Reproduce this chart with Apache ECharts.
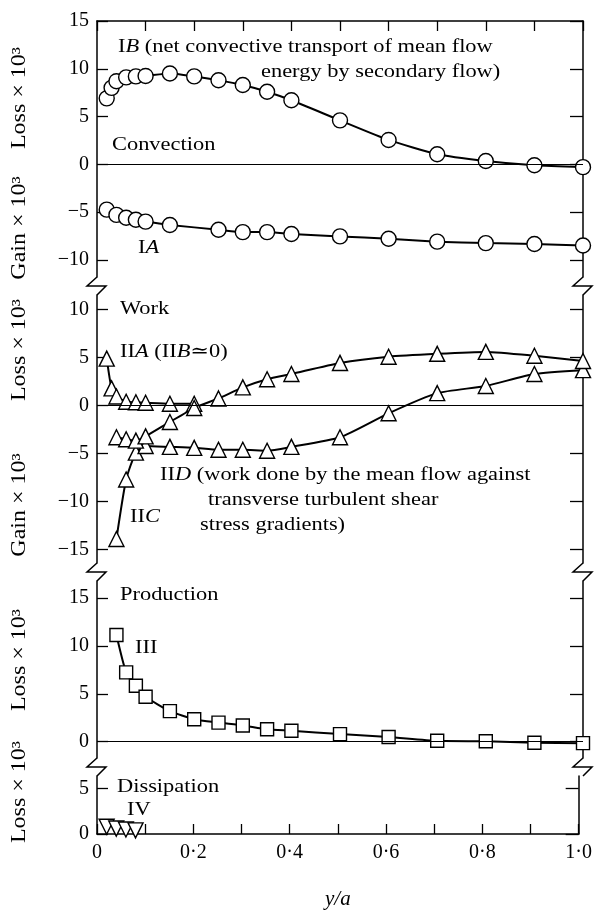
<!DOCTYPE html>
<html>
<head>
<meta charset="utf-8">
<script src="https://cdn.jsdelivr.net/npm/echarts@6/dist/echarts.min.js"></script>
<style>
  html, body { margin: 0; background: #fff; }
  #chart { width: 595px; height: 911px; }
</style>
</head>
<body>
<div id="chart"></div>
<script>
// Convection
const xIB = [0.02, 0.03, 0.04, 0.06, 0.08, 0.1, 0.15, 0.2, 0.25, 0.3, 0.35, 0.4, 0.5, 0.6, 0.7, 0.8, 0.9, 1.0];
const yIB = [6.9, 8.0, 8.7, 9.1, 9.2, 9.25, 9.5, 9.2, 8.8, 8.3, 7.6, 6.7, 4.6, 2.55, 1.05, 0.35, -0.1, -0.3];
const xIA = [0.02, 0.04, 0.06, 0.08, 0.1, 0.15, 0.25, 0.3, 0.35, 0.4, 0.5, 0.6, 0.7, 0.8, 0.9, 1.0];
const yIA = [-4.75, -5.3, -5.6, -5.8, -6.0, -6.35, -6.85, -7.1, -7.1, -7.3, -7.55, -7.8, -8.1, -8.25, -8.35, -8.5];
// Work
const xIIA = [0.02, 0.03, 0.04, 0.06, 0.08, 0.1, 0.15, 0.2];
const yIIA = [4.9, 1.8, 0.95, 0.4, 0.35, 0.3, 0.2, 0.2];
const xIIC = [0.04, 0.06, 0.08, 0.1, 0.15, 0.2, 0.25, 0.3, 0.35, 0.4, 0.5, 0.6, 0.7, 0.8, 0.9, 1.0];
const yIIC = [-13.9, -7.7, -4.9, -4.2, -4.3, -4.4, -4.6, -4.6, -4.7, -4.3, -3.3, -0.8, 1.3, 2.05, 3.3, 3.7];
const xIID = [0.04, 0.06, 0.08, 0.1, 0.15, 0.2, 0.25, 0.3, 0.35, 0.4, 0.5, 0.6, 0.7, 0.8, 0.9, 1.0];
const yIID = [-3.3, -3.5, -3.65, -3.2, -1.7, -0.25, 0.75, 1.9, 2.75, 3.3, 4.45, 5.1, 5.4, 5.6, 5.2, 4.65];
// Production
const xIII = [0.04, 0.06, 0.08, 0.1, 0.15, 0.2, 0.25, 0.3, 0.35, 0.4, 0.5, 0.6, 0.7, 0.8, 0.9, 1.0];
const yIII = [11.15, 7.25, 5.85, 4.7, 3.2, 2.35, 2.0, 1.7, 1.3, 1.15, 0.8, 0.5, 0.1, 0.05, -0.1, -0.15];
// Dissipation
const xIV = [0.02, 0.04, 0.06, 0.08];
const yIV = [0.8, 0.6, 0.5, 0.4];

const xTickValues = [0, 0.2, 0.4, 0.6, 0.8, 1.0];
const xTickLabels = ['0', '0·2', '0·4', '0·6', '0·8', '1·0'];
const yTicks = [
  [-10, -5, 0, 5, 10, 15],
  [-15, -10, -5, 0, 5, 10],
  [0, 5, 10, 15],
  [0, 5]
];

const SERIF = '"Liberation Serif", "DejaVu Serif", serif';
const L = 97, R = 583;
// panel pixel boxes and value ranges
const panels = [
  { top: 21, bottom: 277, min: -11.8, max: 15 },
  { top: 295, bottom: 563, min: -16.4, max: 11.53 },
  { top: 581, bottom: 758, min: -1.7, max: 16.8 },
  { top: 776, bottom: 837, min: 0, max: 6.4 }
];

const chart = echarts.init(document.getElementById('chart'));

const zip = (xs, ys) => xs.map((x, i) => [x, ys[i]]);
const fmtY = v => (v < 0 ? '\u2212' + Math.abs(v) : String(v));

let grids = [], xAxes = [], yAxes = [];
panels.forEach((p, i) => {
  grids.push({ left: L, right: 595 - R, top: p.top, height: p.bottom - p.top });
  const isTop = i === 0, isBottom = i === panels.length - 1;
  xAxes.push({
    type: 'value', gridIndex: i, min: 0, max: 1, interval: 0.1,
    position: isTop ? 'top' : 'bottom',
    axisLine: { show: isTop || isBottom, onZero: false, lineStyle: { color: '#000', width: 1.5 } },
    axisTick: { show: isTop || isBottom, inside: true, length: 10, lineStyle: { color: '#000', width: 1.3 } },
    axisLabel: {
      show: isBottom, customValues: xTickValues, margin: 9,
      color: '#000', fontFamily: SERIF, fontSize: 20,
      formatter: v => xTickLabels[xTickValues.findIndex(t => Math.abs(t - v) < 1e-6)] || ''
    },
    splitLine: { show: false },
    name: isBottom ? 'y/a' : '', nameLocation: 'middle', nameGap: 55,
    nameTextStyle: { color: '#000', fontFamily: SERIF, fontSize: 21, fontStyle: 'italic' }
  });
  const base = {
    type: 'value', gridIndex: i, min: p.min, max: p.max,
    axisLine: { show: true, onZero: false, lineStyle: { color: '#000', width: 1.5 } },
    splitLine: { show: false }
  };
  yAxes.push(Object.assign({}, base, {
    position: 'left',
    axisTick: { inside: true, length: 11, customValues: yTicks[i], lineStyle: { color: '#000', width: 1.3 } },
    axisLabel: { customValues: yTicks[i], margin: 8, color: '#000', fontFamily: SERIF, fontSize: 20, formatter: fmtY }
  }));
  yAxes.push(Object.assign({}, base, {
    position: 'right',
    axisTick: { inside: true, length: 13, customValues: yTicks[i], lineStyle: { color: '#000', width: 1.3 } },
    axisLabel: { show: false }
  }));
});

function mk(name, xs, ys, panel, symbol, size, extra) {
  return Object.assign({
    name: name, type: 'line', xAxisIndex: panel, yAxisIndex: panel * 2,
    data: zip(xs, ys), smooth: 0.2, symbol: symbol, symbolSize: size,
    showAllSymbol: true,
    lineStyle: { color: '#000', width: 2 },
    itemStyle: { color: '#fff', borderColor: '#000', borderWidth: 1.4 },
    emphasis: { disabled: true }, animation: false
  }, extra || {});
}
const zeroLine = {
  silent: true, symbol: 'none', label: { show: false },
  lineStyle: { color: '#000', width: 1, type: 'solid' },
  data: [{ yAxis: 0 }], animation: false
};

const series = [
  mk('IB', xIB, yIB, 0, 'circle', 15, { markLine: zeroLine }),
  mk('IA', xIA, yIA, 0, 'circle', 15),
  mk('IIA', xIIA, yIIA, 1, 'triangle', 15, { markLine: zeroLine }),
  mk('IIC', xIIC, yIIC, 1, 'triangle', 15),
  mk('IID', xIID, yIID, 1, 'triangle', 15),
  mk('III', xIII, yIII, 2, 'rect', 13, { markLine: zeroLine }),
  mk('IV', xIV, yIV, 3, 'triangle', 15, { symbolRotate: 180, lineStyle: { width: 0 } })
];

// text annotations (type is set a little wider than the font to match the print)
const FS = 19, SX = 1.18;
const txtStyle = text => ({
  text: text, fill: '#000', fontFamily: SERIF, fontSize: FS, verticalAlign: 'middle',
  rich: {
    n: { fontFamily: SERIF, fontSize: FS, fill: '#000' },
    i: { fontFamily: SERIF, fontSize: FS, fontStyle: 'italic', fill: '#000' }
  }
});
const texts = [
  [118, 47, '{n|I}{i|B}{n| (net convective transport of mean flow}'],
  [261, 72, 'energy by secondary flow)'],
  [112, 145, 'Convection'],
  [138, 248, '{n|I}{i|A}'],
  [120, 309, 'Work'],
  [120, 352, '{n|II}{i|A}{n| (II}{i|B}{n|\u22430)}'],
  [160, 475, '{n|II}{i|D}{n| (work done by the mean flow against}'],
  [208, 500, 'transverse turbulent shear'],
  [200, 525, 'stress gradients)'],
  [130, 517, '{n|II}{i|C}'],
  [120, 595, 'Production'],
  [135, 648, 'III'],
  [117, 787, 'Dissipation'],
  [127, 810, 'IV']
];
const graphic = texts.map(t => ({
  type: 'text', x: t[0], y: t[1], scaleX: SX, silent: true, style: txtStyle(t[2])
}));

// vertical axis titles
[[98, 'Loss × 10³'], [228, 'Gain × 10³'], [350, 'Loss × 10³'], [505, 'Gain × 10³'],
 [660, 'Loss × 10³'], [792, 'Loss × 10³']].forEach(a => {
  graphic.push({
    type: 'text', x: 20, y: a[0], rotation: Math.PI / 2, scaleX: 1.2, silent: true,
    style: { text: a[1], fill: '#000', fontFamily: SERIF, fontSize: 20, align: 'center', verticalAlign: 'middle' }
  });
});

// axis breaks between panels
for (let i = 0; i < panels.length - 1; i++) {
  const a = panels[i].bottom, b = panels[i + 1].top, c = (a + b) / 2;
  [L, R].forEach(x => {
    graphic.push({
      type: 'polyline', silent: true,
      shape: { points: [[x, a], [x - 10, c], [x + 9, c], [x, b]] },
      style: { stroke: '#000', lineWidth: 1.5, fill: null }
    });
  });
}

chart.setOption({
  backgroundColor: '#fff',
  animation: false,
  grid: grids,
  xAxis: xAxes,
  yAxis: yAxes,
  series: series,
  graphic: graphic
});
</script>
</body>
</html>
